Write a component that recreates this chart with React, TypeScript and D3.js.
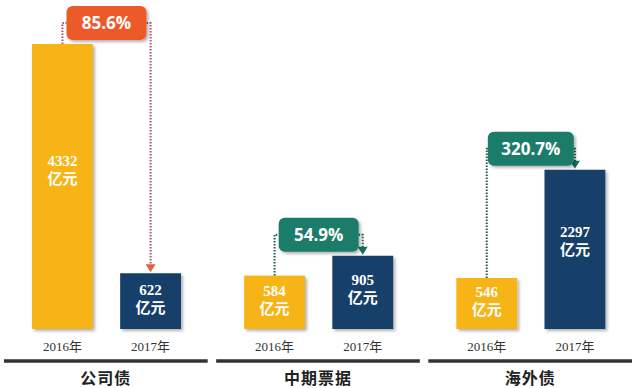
import * as d3 from "d3";

const categories = ["公司债", "中期票据", "海外债"];
const years = ["2016年", "2017年"];
const values2016 = [4332, 584, 546];
const values2017 = [622, 905, 2297];
const growth = ["85.6%", "54.9%", "320.7%"];
const unit = "亿元";

const W = 633,
  H = 388,
  baseY = 329,
  axisY = 361;

const yellow = "#F6B418";
const navy = "#133F69";
const badgeFill = ["#EC5A2C", "#1B7B6B", "#1B7B6B"];
const dotColor = ["#A9546A", "#1E5B47", "#1E5B47"];
const arrowColor = ["#E2623A", "#1B6E5E", "#1B6E5E"];

export default function App() {
  // groups across the page
  const x0 = d3.scaleBand().domain(categories).range([4, 632]).paddingInner(0.04);
  // two bars inside each group
  const x1 = d3.scaleBand().domain(years).range([28, 177]).paddingInner(0.31);
  // bar heights (the picture is not drawn to a zero base)
  const y = d3.scaleLinear().domain([-280, 4332]).range([baseY, 44]);

  const bw = x1.bandwidth();

  return (
    <svg
      width={W}
      height={H}
      viewBox={`0 0 ${W} ${H}`}
      style={{ position: "absolute", left: 0, top: 0, background: "#fff" }}
    >
      <defs>
        <filter id="shadow" x="-10%" y="-10%" width="130%" height="130%">
          <feDropShadow dx="2" dy="2" stdDeviation="1.5" floodColor="#000" floodOpacity="0.3" />
        </filter>
      </defs>
      {categories.map((c, i) => {
        const gx = x0(c)!;
        const vals = [values2016[i], values2017[i]];
        const xs = years.map((yr) => gx + x1(yr)! + bw / 2);
        const top = Math.min(y(vals[0]), y(vals[1]));
        const cy = top - 21;
        const bWidth = growth[i].length > 5 ? 86 : 80;
        const bx = (xs[0] + xs[1]) / 2 - bWidth / 2;
        const t1 = y(vals[1]);
        return (
          <g key={c}>
            {years.map((yr, j) => {
              const yt = y(vals[j]);
              const h = baseY - yt;
              const mid = yt + h * 0.44;
              return (
                <g key={yr}>
                  <rect
                    x={gx + x1(yr)!}
                    y={yt}
                    width={bw}
                    height={h}
                    fill={j === 0 ? yellow : navy}
                    filter="url(#shadow)"
                  />
                  <text
                    x={xs[j]}
                    textAnchor="middle"
                    fill="#fff"
                    fontWeight="bold"
                    fontSize={15}
                    fontFamily='"Liberation Serif", "Noto Sans CJK SC", serif'
                  >
                    <tspan x={xs[j]} y={mid - 3}>{vals[j]}</tspan>
                    <tspan x={xs[j]} y={mid + 15}>{unit}</tspan>
                  </text>
                  <text
                    x={xs[j]}
                    y={351}
                    textAnchor="middle"
                    fill="#333"
                    fontSize={13}
                    fontFamily='"Liberation Serif", "Noto Sans CJK SC", serif'
                  >
                    {yr}
                  </text>
                </g>
              );
            })}
            <path
              d={`M${xs[0]},${y(vals[0])}V${cy}H${bx}`}
              fill="none"
              stroke={dotColor[i]}
              strokeWidth={2}
              strokeDasharray="1.5,1.5"
            />
            <path
              d={`M${bx + bWidth},${cy}H${xs[1]}V${t1 - 7}`}
              fill="none"
              stroke={dotColor[i]}
              strokeWidth={2}
              strokeDasharray="1.5,1.5"
            />
            <path
              d={`M${xs[1] - 5},${t1 - 9}L${xs[1] + 5},${t1 - 9}L${xs[1]},${t1 - 1}Z`}
              fill={arrowColor[i]}
            />
            <rect
              x={bx}
              y={cy - 17}
              width={bWidth}
              height={34}
              rx={6}
              fill={badgeFill[i]}
              filter="url(#shadow)"
            />
            <text
              x={bx + bWidth / 2}
              y={cy + 6}
              textAnchor="middle"
              fill="#fff"
              fontWeight="bold"
              fontSize={17}
              fontFamily='"Open Sans", "Noto Sans", sans-serif'
            >
              {growth[i]}
            </text>
            <line x1={gx} x2={gx + x0.bandwidth()} y1={axisY} y2={axisY} stroke="#333" strokeWidth={3.5} />
            <text
              x={gx + x0.bandwidth() / 2}
              y={384}
              textAnchor="middle"
              fill="#222"
              fontWeight="bold"
              fontSize={16}
              letterSpacing={1}
              fontFamily='"Noto Sans CJK SC", sans-serif'
            >
              {c}
            </text>
          </g>
        );
      })}
    </svg>
  );
}
